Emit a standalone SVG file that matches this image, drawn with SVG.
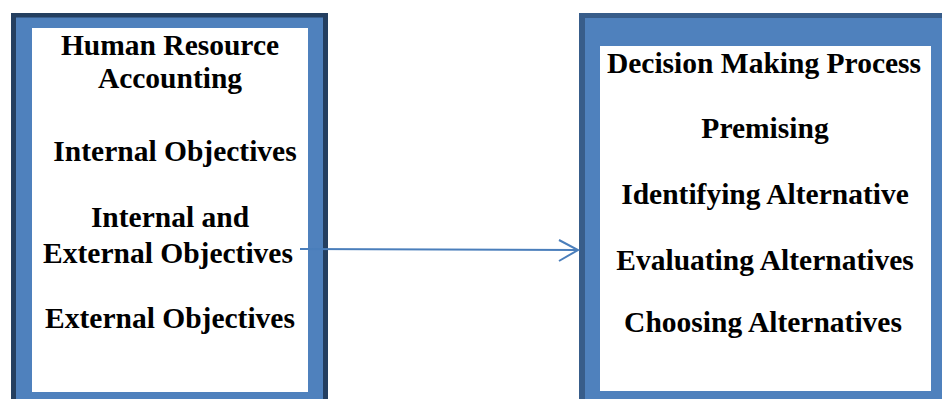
<svg xmlns="http://www.w3.org/2000/svg" width="942" height="399" viewBox="0 0 942 399">
<style>
.fill{fill:#4f81bd}
.dk1{fill:#243f60}
.dk2{fill:#385d8a}
.white{fill:#ffffff}
.t{font-family:"Liberation Serif",serif;font-weight:700;font-size:29.5px;fill:#000;text-anchor:middle}
.conn{stroke:#4a7ebb;stroke-width:2;fill:none}
</style>
<rect x="0" y="0" width="942" height="399" fill="#ffffff"/>
<g id="node-hra">
<rect class="fill" x="11" y="13" width="317" height="400"/>
<rect class="dk1" x="11" y="13" width="5" height="400"/>
<rect class="dk1" x="11" y="13" width="317" height="4.5"/>
<rect class="dk1" x="323" y="13" width="5" height="400"/>
<rect class="white" x="32" y="28" width="276" height="364"/>
<text class="t" x="170" y="55">Human Resource</text>
<text class="t" x="170" y="88">Accounting</text>
<text class="t" x="175" y="161">Internal Objectives</text>
<text class="t" x="170" y="227">Internal and</text>
<text class="t" x="168" y="263">External Objectives</text>
<text class="t" x="170" y="328">External Objectives</text>
</g>
<g id="node-dmp">
<rect class="fill" x="579" y="13" width="363" height="400"/>
<rect class="dk2" x="579" y="13" width="6" height="400"/>
<rect class="dk2" x="579" y="13" width="363" height="5"/>
<rect class="white" x="600" y="46" width="331" height="345"/>
<text class="t" x="764" y="73">Decision Making Process</text>
<text class="t" x="765" y="138">Premising</text>
<text class="t" x="765" y="204">Identifying Alternative</text>
<text class="t" x="765" y="270">Evaluating Alternatives</text>
<text class="t" x="763" y="332">Choosing Alternatives</text>
</g>
<g id="connectors">
<line class="conn" x1="300" y1="249" x2="577" y2="250"/>
<polyline class="conn" points="559,240 578,250 559,261"/>
</g>
</svg>
